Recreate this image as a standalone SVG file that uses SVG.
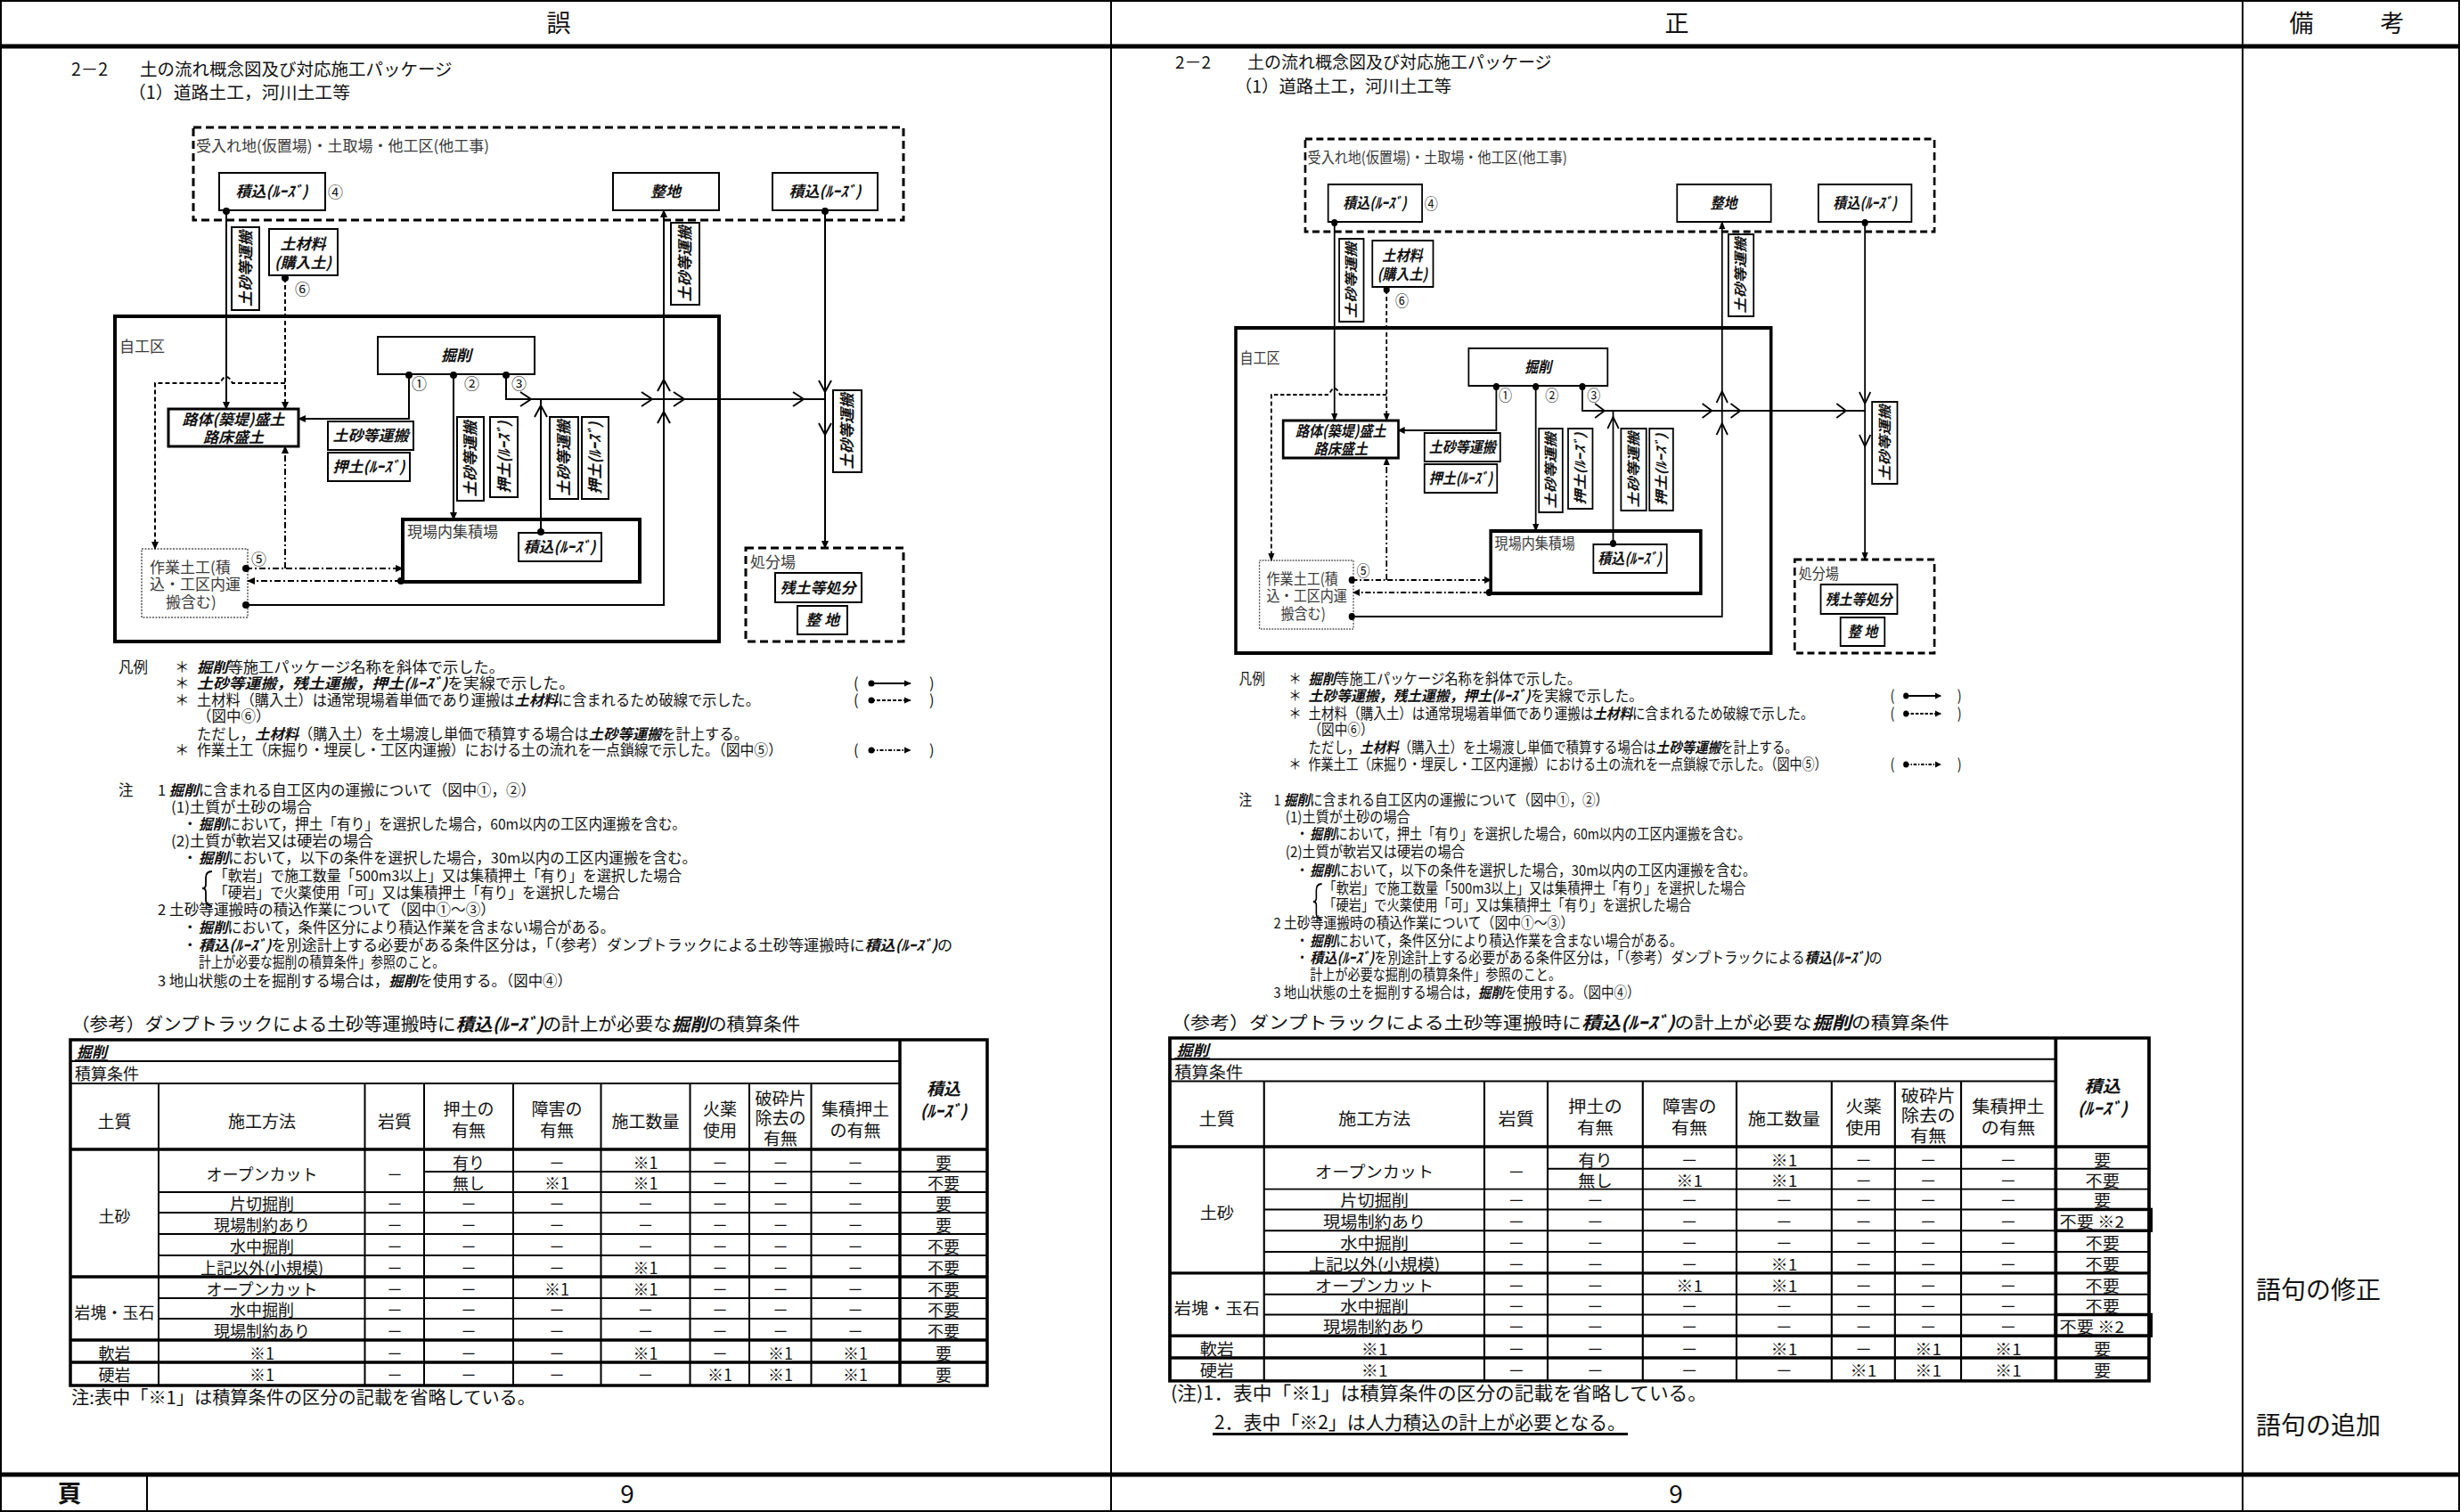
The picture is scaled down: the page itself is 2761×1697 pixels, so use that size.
<svg xmlns="http://www.w3.org/2000/svg" width="2761" height="1697" viewBox="0 0 2761 1697">
<style>
.t{font-family:"Noto Sans CJK JP","Noto Sans",sans-serif;fill:#111}
.d17{font-size:17px}
.s16{font-size:16.5px}
.c18{font-size:18px}
.h19{font-size:19px}
.f20{font-size:20px}
.bi{font-weight:bold;font-style:italic}
.tc{text-anchor:middle}
.ts{text-anchor:start}
.g{fill:#3a3a3a}
.box{fill:#fff;stroke:#000;stroke-width:2}
.dash{fill:none;stroke:#000;stroke-width:3;stroke-dasharray:9 5}
.thick{fill:none;stroke:#000;stroke-width:4}
.ln{fill:none;stroke:#000;stroke-width:2}
.dl{fill:none;stroke:#000;stroke-width:2;stroke-dasharray:5 3}
.dd{fill:none;stroke:#000;stroke-width:2;stroke-dasharray:7 3 2 3}
.dotb{fill:#fff;stroke:#555;stroke-width:1.5;stroke-dasharray:2 1.5}
.tl{fill:none;stroke:#000;stroke-width:2}
.tk{fill:none;stroke:#000;stroke-width:3.5}
</style>
<defs>
<marker id="ah" viewBox="0 0 10 10" refX="9" refY="5" markerWidth="9" markerHeight="9" markerUnits="userSpaceOnUse" orient="auto"><path d="M0,0.5 L10,5 L0,9.5 z" fill="#000"/></marker>
<marker id="ahs" viewBox="0 0 10 10" refX="9" refY="5" markerWidth="8" markerHeight="8" markerUnits="userSpaceOnUse" orient="auto"><path d="M0,0.5 L10,5 L0,9.5 z" fill="#000"/></marker>
</defs>
<rect width="2761" height="1697" fill="#fff"/>

<g id="frame">
<path class="ln" d="M0 1H2761M1 0V1697M2760 0V1697M0 1696H2761M1247 0V1697M2517 0V1697M165 1655V1697"/>
<path d="M0 52H2761M0 1655H2761" stroke="#000" stroke-width="5"/>
<text class="t tc" font-size="27" x="627" y="36">誤</text>
<text class="t tc" font-size="27" x="1882" y="36">正</text>
<text class="t tc" font-size="27" x="2583" y="36">備</text>
<text class="t tc" font-size="27" x="2685" y="36">考</text>
<text class="t tc" font-size="27" font-weight="bold" x="78" y="1686">頁</text>
<text class="t tc" font-size="28" x="704" y="1687">9</text>
<text class="t tc" font-size="28" x="1881" y="1687">9</text>
<text class="t" font-size="28" x="2532" y="1458">語句の修正</text>
<text class="t" font-size="28" x="2532" y="1610">語句の追加</text>
</g>

<g id="titles">
<text class="t" font-size="19.5" x="80" y="85">2－2　<tspan x="157">土の流れ概念図及び対応施工パッケージ</tspan></text>
<text class="t" font-size="19.5" x="144" y="111" textLength="249" lengthAdjust="spacingAndGlyphs">（1）道路土工，河川土工等</text>
<text class="t" font-size="19" x="1319" y="77">2－2　<tspan x="1400">土の流れ概念図及び対応施工パッケージ</tspan></text>
<text class="t" font-size="19" x="1386" y="104" textLength="243" lengthAdjust="spacingAndGlyphs">（1）道路土工，河川土工等</text>
</g>

<!-- ===================== LEFT PANEL (誤) ===================== -->
<g id="L-panel">
<g id="L-node-uke"><rect class="dash" x="217" y="143" width="797" height="104"/><text class="t d17 g" x="220" y="170">受入れ地(仮置場)・土取場・他工区(他工事)</text></g>
<g id="L-node-tsumi4"><rect class="box" x="246" y="194" width="119" height="42"/><text class="t d17 bi tc" x="305" y="221">積込(ﾙｰｽﾞ)</text><text class="t d17" x="368" y="222">④</text></g>
<g id="L-node-seichi"><rect class="box" x="688" y="194" width="119" height="42"/><text class="t d17 bi tc" x="747" y="221">整地</text></g>
<g id="L-node-tsumiR"><rect class="box" x="867" y="194" width="118" height="42"/><text class="t d17 bi tc" x="926" y="221">積込(ﾙｰｽﾞ)</text></g>
<g id="L-node-dozai"><rect class="box" x="302" y="257" width="77" height="52"/><text class="t d17 bi tc" x="340" y="280">土材料</text><text class="t d17 bi tc" x="340" y="301">(購入土)</text><text class="t d17" x="331" y="331">⑥</text></g>
<g id="L-node-jiko"><rect class="thick" x="129" y="355" width="678" height="365"/><text class="t d17 g" x="134" y="395">自工区</text></g>
<g id="L-node-kussaku"><rect class="box" x="424" y="378" width="176" height="42"/><text class="t d17 bi tc" x="512" y="405">掘削</text><text class="t d17" x="462" y="437">①</text><text class="t d17" x="521" y="437">②</text><text class="t d17" x="574" y="437">③</text></g>
<g id="L-node-rotai"><rect class="box" x="189" y="459" width="146" height="42" style="stroke-width:3"/><text class="t d17 bi tc" x="262" y="477">路体(築堤)盛土</text><text class="t d17 bi tc" x="262" y="497">路床盛土</text></g>
<g id="L-node-sagyo"><rect class="dotb" x="159" y="616" width="119" height="77"/><text class="t d17 g" x="168" y="643">作業土工(積</text><text class="t d17 g" x="168" y="662">込・工区内運</text><text class="t d17 g" x="186" y="682">搬含む)</text><text class="t d17" x="282" y="634">⑤</text></g>
<g id="L-node-shuseki"><rect class="thick" x="452" y="583" width="266" height="70"/><text class="t d17 g" x="457" y="603">現場内集積場</text></g>
<g id="L-node-tsumiS"><rect class="box" x="582" y="598" width="93" height="32"/><text class="t d17 bi tc" x="628" y="620">積込(ﾙｰｽﾞ)</text></g>
<g id="L-node-shobun"><rect class="dash" x="837" y="615" width="177" height="105"/><text class="t d17 g" x="842" y="637">処分場</text></g>
<g id="L-node-zando"><rect class="box" x="870" y="643" width="97" height="33"/><text class="t d17 bi tc" x="918" y="666">残土等処分</text></g>
<g id="L-node-seichi2"><rect class="box" x="895" y="680" width="56" height="32"/><text class="t d17 bi tc" x="923" y="702">整 地</text></g>
<g id="L-lbl-1"><rect class="box" x="260" y="255" width="31" height="93"/><text class="t d17 bi tc" transform="translate(275.5 301.5) rotate(-90)" y="6">土砂等運搬</text></g>
<g id="L-lbl-2"><rect class="box" x="753" y="250" width="32" height="92"/><text class="t d17 bi tc" transform="translate(769 296) rotate(-90)" y="6">土砂等運搬</text></g>
<g id="L-lbl-3"><rect class="box" x="935" y="438" width="32" height="92"/><text class="t d17 bi tc" transform="translate(951 484) rotate(-90)" y="6">土砂等運搬</text></g>
<g id="L-lbl-4"><rect class="box" x="513" y="468" width="30" height="94"/><text class="t d17 bi tc" transform="translate(528 515) rotate(-90)" y="6">土砂等運搬</text></g>
<g id="L-lbl-5"><rect class="box" x="550" y="468" width="31" height="90"/><text class="t d17 bi tc" transform="translate(565.5 513) rotate(-90)" y="6">押土(ﾙｰｽﾞ)</text></g>
<g id="L-lbl-6"><rect class="box" x="617" y="468" width="32" height="92"/><text class="t d17 bi tc" transform="translate(633 514) rotate(-90)" y="6">土砂等運搬</text></g>
<g id="L-lbl-7"><rect class="box" x="653" y="468" width="30" height="92"/><text class="t d17 bi tc" transform="translate(668 514) rotate(-90)" y="6">押土(ﾙｰｽﾞ)</text></g>
<g id="L-lbl-8"><rect class="box" x="368" y="473" width="96" height="32"/><text class="t d17 bi tc" x="416" y="495">土砂等運搬</text></g>
<g id="L-lbl-9"><rect class="box" x="368" y="508" width="92" height="32"/><text class="t d17 bi tc" x="414" y="530">押土(ﾙｰｽﾞ)</text></g>
<g id="L-connectors">
<path class="ln" d="M254 237V459" marker-end="url(#ah)"/>
<path class="ln" d="M459 421V470H335" marker-end="url(#ah)"/>
<path class="ln" d="M509 421V583" marker-end="url(#ah)"/>
<path class="ln" d="M568 421V448H926"/>
<path class="ln" d="M607 597V448"/>
<path class="ln" d="M276 679H745V236" marker-end="url(#ah)"/>
<path class="ln" d="M926 237V615" marker-end="url(#ah)"/>
<path class="dl" d="M320 312V459" marker-end="url(#ah)"/>
<path class="dl" d="M320 430H261Q254 416 247 430H174V616" marker-end="url(#ah)"/>
<path class="dd" d="M276 638H452" marker-end="url(#ah)"/>
<path class="dd" d="M320 638V501" marker-end="url(#ah)"/>
<path class="dd" d="M450 652H278" marker-end="url(#ah)"/>
<path class="ln" d="M584 440L596 448L584 456M720 440L732 448L720 456M756 440L768 448L756 456M890 440L902 448L890 456M738 439L745 426L752 439M738 475L745 462L752 475M600 468L607 455L614 468M919 427L926 440L933 427M919 475L926 488L933 475"/>
<g fill="#000"><circle cx="254" cy="237" r="4"/><circle cx="320" cy="312" r="4"/><circle cx="459" cy="421" r="4"/><circle cx="509" cy="421" r="4"/><circle cx="568" cy="421" r="4"/><circle cx="607" cy="597" r="4"/><circle cx="276" cy="638" r="4"/><circle cx="276" cy="679" r="4"/><circle cx="450" cy="652" r="4"/><circle cx="926" cy="237" r="4"/></g>
</g>
<g id="L-legend" class="t s16">
<text x="133" y="755">凡例</text>
<text x="196" y="755">＊</text><text x="221" y="755" textLength="345" lengthAdjust="spacingAndGlyphs"><tspan class="bi">掘削</tspan>等施工パッケージ名称を斜体で示した。</text>
<text x="196" y="773">＊</text><text x="221" y="773" textLength="424" lengthAdjust="spacingAndGlyphs"><tspan class="bi">土砂等運搬，残土運搬，押土(ﾙｰｽﾞ)</tspan>を実線で示した。</text>
<text x="196" y="792">＊</text><text x="221" y="792" textLength="632" lengthAdjust="spacingAndGlyphs">土材料（購入土）は通常現場着単価であり運搬は<tspan class="bi">土材料</tspan>に含まれるため破線で示した。</text>
<text x="221" y="810">（図中⑥）</text>
<text x="221" y="830" textLength="619" lengthAdjust="spacingAndGlyphs">ただし，<tspan class="bi">土材料</tspan>（購入土）を土場渡し単価で積算する場合は<tspan class="bi">土砂等運搬</tspan>を計上する。</text>
<text x="196" y="848">＊</text><text x="221" y="848" textLength="657" lengthAdjust="spacingAndGlyphs">作業土工（床掘り・埋戻し・工区内運搬）における土の流れを一点鎖線で示した。（図中⑤）</text>
<text x="958" y="773">(</text><text x="1043" y="773">)</text>
<text x="958" y="792">(</text><text x="1043" y="792">)</text>
<text x="958" y="848">(</text><text x="1043" y="848">)</text>
<circle cx="978" cy="767" r="3.5" fill="#000"/><path class="ln" d="M978 767H1022" marker-end="url(#ahs)"/>
<circle cx="978" cy="786" r="3.5" fill="#000"/><path class="ln" d="M978 786H1022" style="stroke-dasharray:4 2" marker-end="url(#ahs)"/>
<circle cx="978" cy="842" r="3.5" fill="#000"/><path class="ln" d="M978 842H1022" style="stroke-dasharray:4 2 1.5 2" marker-end="url(#ahs)"/>
</g>
<g id="L-notes" class="t s16">
<text x="133" y="893">注</text>
<text x="177" y="893" textLength="424" lengthAdjust="spacingAndGlyphs">1 <tspan class="bi">掘削</tspan>に含まれる自工区内の運搬について（図中①，②）</text>
<text x="192" y="912" textLength="158" lengthAdjust="spacingAndGlyphs">(1)土質が土砂の場合</text>
<text x="205" y="931">・</text><text x="223" y="931" textLength="547" lengthAdjust="spacingAndGlyphs"><tspan class="bi">掘削</tspan>において，押土「有り」を選択した場合，60m以内の工区内運搬を含む。</text>
<text x="192" y="950" textLength="227" lengthAdjust="spacingAndGlyphs">(2)土質が軟岩又は硬岩の場合</text>
<text x="205" y="969">・</text><text x="223" y="969" textLength="559" lengthAdjust="spacingAndGlyphs"><tspan class="bi">掘削</tspan>において，以下の条件を選択した場合，30m以内の工区内運搬を含む。</text>
<path d="M238 978Q231 978 231 985V993Q231 997 227 997Q231 997 231 1001V1010Q231 1017 238 1017" fill="none" stroke="#000" stroke-width="1.8"/>
<text x="240" y="989" textLength="525" lengthAdjust="spacingAndGlyphs">「軟岩」で施工数量「500m3以上」又は集積押土「有り」を選択した場合</text>
<text x="240" y="1008" textLength="456" lengthAdjust="spacingAndGlyphs">「硬岩」で火薬使用「可」又は集積押土「有り」を選択した場合</text>
<text x="177" y="1027" textLength="379" lengthAdjust="spacingAndGlyphs">2 土砂等運搬時の積込作業について（図中①～③）</text>
<text x="205" y="1047">・</text><text x="223" y="1047" textLength="467" lengthAdjust="spacingAndGlyphs"><tspan class="bi">掘削</tspan>において，条件区分により積込作業を含まない場合がある。</text>
<text x="205" y="1067">・</text><text x="223" y="1067" textLength="846" lengthAdjust="spacingAndGlyphs"><tspan class="bi">積込(ﾙｰｽﾞ)</tspan>を別途計上する必要がある条件区分は，「（参考）ダンプトラックによる土砂等運搬時に<tspan class="bi">積込(ﾙｰｽﾞ)</tspan>の</text>
<text x="223" y="1086" textLength="276" lengthAdjust="spacingAndGlyphs">計上が必要な掘削の積算条件」参照のこと。</text>
<text x="177" y="1107" textLength="465" lengthAdjust="spacingAndGlyphs">3 地山状態の土を掘削する場合は，<tspan class="bi">掘削</tspan>を使用する。（図中④）</text>
</g>
<g id="L-table">
<text class="t f20" x="80" y="1157" textLength="818" lengthAdjust="spacingAndGlyphs">（参考）ダンプトラックによる土砂等運搬時に<tspan class="bi">積込(ﾙｰｽﾞ)</tspan>の計上が必要な<tspan class="bi">掘削</tspan>の積算条件</text>
<rect class="tk" x="79" y="1167" width="1029" height="388"/>
<path class="tl" d="M79 1191H1010M79 1216H1010M178 1216V1555M409.5 1216V1555M476 1216V1555M576 1216V1555M674.5 1216V1555M774.5 1216V1555M841 1216V1555M910.5 1216V1555M476 1315H1108M178 1338H1108M178 1361H1108M178 1385H1108M178 1409H1108M178 1457H1108M178 1480H1108"/>
<path class="tk" d="M1010 1167V1555M79 1290H1108M79 1433H1108M79 1504H1108M79 1529H1108"/>
<text class="t bi" font-size="17" x="86" y="1187">掘削</text><path d="M84 1190H121" stroke="#000" stroke-width="1.5"/>
<text class="t c18" x="84" y="1212">積算条件</text>
<g class="t h19 tc">
<text x="128.5" y="1266">土質</text><text x="294" y="1266">施工方法</text><text x="443" y="1266">岩質</text>
<text x="526" y="1252">押土の</text><text x="526" y="1276">有無</text>
<text x="625" y="1252">障害の</text><text x="625" y="1276">有無</text>
<text x="724.5" y="1266">施工数量</text>
<text x="808" y="1252">火薬</text><text x="808" y="1276">使用</text>
<text x="876" y="1240">破砕片</text><text x="876" y="1262">除去の</text><text x="876" y="1285">有無</text>
<text x="960" y="1252">集積押土</text><text x="960" y="1276">の有無</text>
<text class="bi" x="1059" y="1229">積込</text><text class="bi" x="1059" y="1254">(ﾙｰｽﾞ)</text>
</g>
<g class="t c18 tc">
<text x="128.5" y="1372">土砂</text><text x="128.5" y="1480">岩塊・玉石</text><text x="128.5" y="1526">軟岩</text><text x="128.5" y="1550">硬岩</text>
<text x="294" y="1325">オープンカット</text><text x="443" y="1325">－</text>
<text x="526" y="1312">有り</text><text x="625" y="1312">－</text><text x="724.5" y="1312">※1</text><text x="808" y="1312">－</text><text x="876" y="1312">－</text><text x="960" y="1312">－</text><text x="1059" y="1312">要</text>
<text x="526" y="1335">無し</text><text x="625" y="1335">※1</text><text x="724.5" y="1335">※1</text><text x="808" y="1335">－</text><text x="876" y="1335">－</text><text x="960" y="1335">－</text><text x="1059" y="1335">不要</text>
<text x="294" y="1358">片切掘削</text><text x="443" y="1358">－</text><text x="526" y="1358">－</text><text x="625" y="1358">－</text><text x="724.5" y="1358">－</text><text x="808" y="1358">－</text><text x="876" y="1358">－</text><text x="960" y="1358">－</text><text x="1059" y="1358">要</text>
<text x="294" y="1382">現場制約あり</text><text x="443" y="1382">－</text><text x="526" y="1382">－</text><text x="625" y="1382">－</text><text x="724.5" y="1382">－</text><text x="808" y="1382">－</text><text x="876" y="1382">－</text><text x="960" y="1382">－</text><text x="1059" y="1382">要</text>
<text x="294" y="1406">水中掘削</text><text x="443" y="1406">－</text><text x="526" y="1406">－</text><text x="625" y="1406">－</text><text x="724.5" y="1406">－</text><text x="808" y="1406">－</text><text x="876" y="1406">－</text><text x="960" y="1406">－</text><text x="1059" y="1406">不要</text>
<text x="294" y="1430">上記以外(小規模)</text><text x="443" y="1430">－</text><text x="526" y="1430">－</text><text x="625" y="1430">－</text><text x="724.5" y="1430">※1</text><text x="808" y="1430">－</text><text x="876" y="1430">－</text><text x="960" y="1430">－</text><text x="1059" y="1430">不要</text>
<text x="294" y="1454">オープンカット</text><text x="443" y="1454">－</text><text x="526" y="1454">－</text><text x="625" y="1454">※1</text><text x="724.5" y="1454">※1</text><text x="808" y="1454">－</text><text x="876" y="1454">－</text><text x="960" y="1454">－</text><text x="1059" y="1454">不要</text>
<text x="294" y="1477">水中掘削</text><text x="443" y="1477">－</text><text x="526" y="1477">－</text><text x="625" y="1477">－</text><text x="724.5" y="1477">－</text><text x="808" y="1477">－</text><text x="876" y="1477">－</text><text x="960" y="1477">－</text><text x="1059" y="1477">不要</text>
<text x="294" y="1501">現場制約あり</text><text x="443" y="1501">－</text><text x="526" y="1501">－</text><text x="625" y="1501">－</text><text x="724.5" y="1501">－</text><text x="808" y="1501">－</text><text x="876" y="1501">－</text><text x="960" y="1501">－</text><text x="1059" y="1501">不要</text>
<text x="294" y="1526">※1</text><text x="443" y="1526">－</text><text x="526" y="1526">－</text><text x="625" y="1526">－</text><text x="724.5" y="1526">※1</text><text x="808" y="1526">－</text><text x="876" y="1526">※1</text><text x="960" y="1526">※1</text><text x="1059" y="1526">要</text>
<text x="294" y="1550">※1</text><text x="443" y="1550">－</text><text x="526" y="1550">－</text><text x="625" y="1550">－</text><text x="724.5" y="1550">－</text><text x="808" y="1550">※1</text><text x="876" y="1550">※1</text><text x="960" y="1550">※1</text><text x="1059" y="1550">要</text>
</g>
<text class="t f20" x="80" y="1576" textLength="521" lengthAdjust="spacingAndGlyphs">注:表中「※1」は積算条件の区分の記載を省略している。</text>
</g>
</g>

<!-- ===================== RIGHT PANEL (正) ===================== -->
<g id="R-panel" transform="translate(1387 13) scale(0.886 1) translate(-129 0)">
<g id="R-node-uke"><rect class="dash" x="217" y="143" width="797" height="104"/><text class="t d17 g" x="220" y="170">受入れ地(仮置場)・土取場・他工区(他工事)</text></g>
<g id="R-node-tsumi4"><rect class="box" x="246" y="194" width="119" height="42"/><text class="t d17 bi tc" x="305" y="221">積込(ﾙｰｽﾞ)</text><text class="t d17" x="368" y="222">④</text></g>
<g id="R-node-seichi"><rect class="box" x="688" y="194" width="119" height="42"/><text class="t d17 bi tc" x="747" y="221">整地</text></g>
<g id="R-node-tsumiR"><rect class="box" x="867" y="194" width="118" height="42"/><text class="t d17 bi tc" x="926" y="221">積込(ﾙｰｽﾞ)</text></g>
<g id="R-node-dozai"><rect class="box" x="302" y="257" width="77" height="52"/><text class="t d17 bi tc" x="340" y="280">土材料</text><text class="t d17 bi tc" x="340" y="301">(購入土)</text><text class="t d17" x="331" y="331">⑥</text></g>
<g id="R-node-jiko"><rect class="thick" x="129" y="355" width="678" height="365"/><text class="t d17 g" x="134" y="395">自工区</text></g>
<g id="R-node-kussaku"><rect class="box" x="424" y="378" width="176" height="42"/><text class="t d17 bi tc" x="512" y="405">掘削</text><text class="t d17" x="462" y="437">①</text><text class="t d17" x="521" y="437">②</text><text class="t d17" x="574" y="437">③</text></g>
<g id="R-node-rotai"><rect class="box" x="189" y="459" width="146" height="42" style="stroke-width:3"/><text class="t d17 bi tc" x="262" y="477">路体(築堤)盛土</text><text class="t d17 bi tc" x="262" y="497">路床盛土</text></g>
<g id="R-node-sagyo"><rect class="dotb" x="159" y="616" width="119" height="77"/><text class="t d17 g" x="168" y="643">作業土工(積</text><text class="t d17 g" x="168" y="662">込・工区内運</text><text class="t d17 g" x="186" y="682">搬含む)</text><text class="t d17" x="282" y="634">⑤</text></g>
<g id="R-node-shuseki"><rect class="thick" x="452" y="583" width="266" height="70"/><text class="t d17 g" x="457" y="603">現場内集積場</text></g>
<g id="R-node-tsumiS"><rect class="box" x="582" y="598" width="93" height="32"/><text class="t d17 bi tc" x="628" y="620">積込(ﾙｰｽﾞ)</text></g>
<g id="R-node-shobun"><rect class="dash" x="837" y="615" width="177" height="105"/><text class="t d17 g" x="842" y="637">処分場</text></g>
<g id="R-node-zando"><rect class="box" x="870" y="643" width="97" height="33"/><text class="t d17 bi tc" x="918" y="666">残土等処分</text></g>
<g id="R-node-seichi2"><rect class="box" x="895" y="680" width="56" height="32"/><text class="t d17 bi tc" x="923" y="702">整 地</text></g>
<g id="R-lbl-1"><rect class="box" x="260" y="255" width="31" height="93"/><text class="t d17 bi tc" transform="translate(275.5 301.5) rotate(-90)" y="6">土砂等運搬</text></g>
<g id="R-lbl-2"><rect class="box" x="753" y="250" width="32" height="92"/><text class="t d17 bi tc" transform="translate(769 296) rotate(-90)" y="6">土砂等運搬</text></g>
<g id="R-lbl-3"><rect class="box" x="935" y="438" width="32" height="92"/><text class="t d17 bi tc" transform="translate(951 484) rotate(-90)" y="6">土砂等運搬</text></g>
<g id="R-lbl-4"><rect class="box" x="513" y="468" width="30" height="94"/><text class="t d17 bi tc" transform="translate(528 515) rotate(-90)" y="6">土砂等運搬</text></g>
<g id="R-lbl-5"><rect class="box" x="550" y="468" width="31" height="90"/><text class="t d17 bi tc" transform="translate(565.5 513) rotate(-90)" y="6">押土(ﾙｰｽﾞ)</text></g>
<g id="R-lbl-6"><rect class="box" x="617" y="468" width="32" height="92"/><text class="t d17 bi tc" transform="translate(633 514) rotate(-90)" y="6">土砂等運搬</text></g>
<g id="R-lbl-7"><rect class="box" x="653" y="468" width="30" height="92"/><text class="t d17 bi tc" transform="translate(668 514) rotate(-90)" y="6">押土(ﾙｰｽﾞ)</text></g>
<g id="R-lbl-8"><rect class="box" x="368" y="473" width="96" height="32"/><text class="t d17 bi tc" x="416" y="495">土砂等運搬</text></g>
<g id="R-lbl-9"><rect class="box" x="368" y="508" width="92" height="32"/><text class="t d17 bi tc" x="414" y="530">押土(ﾙｰｽﾞ)</text></g>
<g id="R-connectors">
<path class="ln" d="M254 237V459" marker-end="url(#ah)"/>
<path class="ln" d="M459 421V470H335" marker-end="url(#ah)"/>
<path class="ln" d="M509 421V583" marker-end="url(#ah)"/>
<path class="ln" d="M568 421V448H926"/>
<path class="ln" d="M607 597V448"/>
<path class="ln" d="M276 679H745V236" marker-end="url(#ah)"/>
<path class="ln" d="M926 237V615" marker-end="url(#ah)"/>
<path class="dl" d="M320 312V459" marker-end="url(#ah)"/>
<path class="dl" d="M320 430H261Q254 416 247 430H174V616" marker-end="url(#ah)"/>
<path class="dd" d="M276 638H452" marker-end="url(#ah)"/>
<path class="dd" d="M320 638V501" marker-end="url(#ah)"/>
<path class="dd" d="M450 652H278" marker-end="url(#ah)"/>
<path class="ln" d="M584 440L596 448L584 456M720 440L732 448L720 456M756 440L768 448L756 456M890 440L902 448L890 456M738 439L745 426L752 439M738 475L745 462L752 475M600 468L607 455L614 468M919 427L926 440L933 427M919 475L926 488L933 475"/>
<g fill="#000"><circle cx="254" cy="237" r="4"/><circle cx="320" cy="312" r="4"/><circle cx="459" cy="421" r="4"/><circle cx="509" cy="421" r="4"/><circle cx="568" cy="421" r="4"/><circle cx="607" cy="597" r="4"/><circle cx="276" cy="638" r="4"/><circle cx="276" cy="679" r="4"/><circle cx="450" cy="652" r="4"/><circle cx="926" cy="237" r="4"/></g>
</g>
<g id="R-legend" class="t s16">
<text x="133" y="755">凡例</text>
<text x="196" y="755">＊</text><text x="221" y="755" textLength="345" lengthAdjust="spacingAndGlyphs"><tspan class="bi">掘削</tspan>等施工パッケージ名称を斜体で示した。</text>
<text x="196" y="774">＊</text><text x="221" y="774" textLength="424" lengthAdjust="spacingAndGlyphs"><tspan class="bi">土砂等運搬，残土運搬，押土(ﾙｰｽﾞ)</tspan>を実線で示した。</text>
<text x="196" y="794">＊</text><text x="221" y="794" textLength="640" lengthAdjust="spacingAndGlyphs">土材料（購入土）は通常現場着単価であり運搬は<tspan class="bi">土材料</tspan>に含まれるため破線で示した。</text>
<text x="221" y="812">（図中⑥）</text>
<text x="221" y="832" textLength="620" lengthAdjust="spacingAndGlyphs">ただし，<tspan class="bi">土材料</tspan>（購入土）を土場渡し単価で積算する場合は<tspan class="bi">土砂等運搬</tspan>を計上する。</text>
<text x="196" y="851">＊</text><text x="221" y="851" textLength="657" lengthAdjust="spacingAndGlyphs">作業土工（床掘り・埋戻し・工区内運搬）における土の流れを一点鎖線で示した。（図中⑤）</text>
<text x="958" y="774">(</text><text x="1043" y="774">)</text>
<text x="958" y="794">(</text><text x="1043" y="794">)</text>
<text x="958" y="851">(</text><text x="1043" y="851">)</text>
<circle cx="978" cy="768" r="3.5" fill="#000"/><path class="ln" d="M978 768H1022" marker-end="url(#ahs)"/>
<circle cx="978" cy="788" r="3.5" fill="#000"/><path class="ln" d="M978 788H1022" style="stroke-dasharray:4 2" marker-end="url(#ahs)"/>
<circle cx="978" cy="845" r="3.5" fill="#000"/><path class="ln" d="M978 845H1022" style="stroke-dasharray:4 2 1.5 2" marker-end="url(#ahs)"/>
</g>
<g id="R-notes" class="t s16">
<text x="133" y="891">注</text>
<text x="177" y="891" textLength="424" lengthAdjust="spacingAndGlyphs">1 <tspan class="bi">掘削</tspan>に含まれる自工区内の運搬について（図中①，②）</text>
<text x="192" y="910" textLength="158" lengthAdjust="spacingAndGlyphs">(1)土質が土砂の場合</text>
<text x="205" y="929">・</text><text x="223" y="929" textLength="558" lengthAdjust="spacingAndGlyphs"><tspan class="bi">掘削</tspan>において，押土「有り」を選択した場合，60m以内の工区内運搬を含む。</text>
<text x="192" y="949" textLength="227" lengthAdjust="spacingAndGlyphs">(2)土質が軟岩又は硬岩の場合</text>
<text x="205" y="970">・</text><text x="223" y="970" textLength="565" lengthAdjust="spacingAndGlyphs"><tspan class="bi">掘削</tspan>において，以下の条件を選択した場合，30m以内の工区内運搬を含む。</text>
<path d="M238 979Q231 979 231 986V995Q231 999 227 999Q231 999 231 1003V1012Q231 1019 238 1019" fill="none" stroke="#000" stroke-width="1.8"/>
<text x="240" y="990" textLength="535" lengthAdjust="spacingAndGlyphs">「軟岩」で施工数量「500m3以上」又は集積押土「有り」を選択した場合</text>
<text x="240" y="1009" textLength="466" lengthAdjust="spacingAndGlyphs">「硬岩」で火薬使用「可」又は集積押土「有り」を選択した場合</text>
<text x="177" y="1029" textLength="380" lengthAdjust="spacingAndGlyphs">2 土砂等運搬時の積込作業について（図中①～③）</text>
<text x="205" y="1049">・</text><text x="223" y="1049" textLength="472" lengthAdjust="spacingAndGlyphs"><tspan class="bi">掘削</tspan>において，条件区分により積込作業を含まない場合がある。</text>
<text x="205" y="1068">・</text><text x="223" y="1068" textLength="725" lengthAdjust="spacingAndGlyphs"><tspan class="bi">積込(ﾙｰｽﾞ)</tspan>を別途計上する必要がある条件区分は，「（参考）ダンプトラックによる<tspan class="bi">積込(ﾙｰｽﾞ)</tspan>の</text>
<text x="223" y="1087" textLength="318" lengthAdjust="spacingAndGlyphs">計上が必要な掘削の積算条件」参照のこと。</text>
<text x="177" y="1107" textLength="464" lengthAdjust="spacingAndGlyphs">3 地山状態の土を掘削する場合は，<tspan class="bi">掘削</tspan>を使用する。（図中④）</text>
</g>
</g>

<g id="R-table" transform="translate(1313 1165) scale(1.068 0.992) translate(-79 -1167)">
<text class="t f20" x="80" y="1157" textLength="818" lengthAdjust="spacingAndGlyphs">（参考）ダンプトラックによる土砂等運搬時に<tspan class="bi">積込(ﾙｰｽﾞ)</tspan>の計上が必要な<tspan class="bi">掘削</tspan>の積算条件</text>
<rect class="tk" x="79" y="1167" width="1029" height="388"/>
<path class="tl" d="M79 1191H1010M79 1216H1010M178 1216V1555M409.5 1216V1555M476 1216V1555M576 1216V1555M674.5 1216V1555M774.5 1216V1555M841 1216V1555M910.5 1216V1555M476 1315H1108M178 1338H1108M178 1361H1108M178 1385H1108M178 1409H1108M178 1457H1108M178 1480H1108"/>
<path class="tk" d="M1010 1167V1555M79 1290H1108M79 1433H1108M79 1504H1108M79 1529H1108"/>
<rect class="tk" x="1010" y="1361" width="100" height="24"/>
<rect class="tk" x="1010" y="1480" width="100" height="24"/>
<text class="t bi" font-size="17" x="86" y="1187">掘削</text><path d="M84 1190H121" stroke="#000" stroke-width="1.5"/>
<text class="t c18" x="84" y="1212">積算条件</text>
<g class="t h19 tc">
<text x="128.5" y="1266">土質</text><text x="294" y="1266">施工方法</text><text x="443" y="1266">岩質</text>
<text x="526" y="1252">押土の</text><text x="526" y="1276">有無</text>
<text x="625" y="1252">障害の</text><text x="625" y="1276">有無</text>
<text x="724.5" y="1266">施工数量</text>
<text x="808" y="1252">火薬</text><text x="808" y="1276">使用</text>
<text x="876" y="1240">破砕片</text><text x="876" y="1262">除去の</text><text x="876" y="1285">有無</text>
<text x="960" y="1252">集積押土</text><text x="960" y="1276">の有無</text>
<text class="bi" x="1059" y="1229">積込</text><text class="bi" x="1059" y="1254">(ﾙｰｽﾞ)</text>
</g>
<g class="t c18 tc">
<text x="128.5" y="1372">土砂</text><text x="128.5" y="1480">岩塊・玉石</text><text x="128.5" y="1526">軟岩</text><text x="128.5" y="1550">硬岩</text>
<text x="294" y="1325">オープンカット</text><text x="443" y="1325">－</text>
<text x="526" y="1312">有り</text><text x="625" y="1312">－</text><text x="724.5" y="1312">※1</text><text x="808" y="1312">－</text><text x="876" y="1312">－</text><text x="960" y="1312">－</text><text x="1059" y="1312">要</text>
<text x="526" y="1335">無し</text><text x="625" y="1335">※1</text><text x="724.5" y="1335">※1</text><text x="808" y="1335">－</text><text x="876" y="1335">－</text><text x="960" y="1335">－</text><text x="1059" y="1335">不要</text>
<text x="294" y="1358">片切掘削</text><text x="443" y="1358">－</text><text x="526" y="1358">－</text><text x="625" y="1358">－</text><text x="724.5" y="1358">－</text><text x="808" y="1358">－</text><text x="876" y="1358">－</text><text x="960" y="1358">－</text><text x="1059" y="1358">要</text>
<text x="294" y="1382">現場制約あり</text><text x="443" y="1382">－</text><text x="526" y="1382">－</text><text x="625" y="1382">－</text><text x="724.5" y="1382">－</text><text x="808" y="1382">－</text><text x="876" y="1382">－</text><text x="960" y="1382">－</text><text class="ts" x="1014" y="1382">不要 ※2</text>
<text x="294" y="1406">水中掘削</text><text x="443" y="1406">－</text><text x="526" y="1406">－</text><text x="625" y="1406">－</text><text x="724.5" y="1406">－</text><text x="808" y="1406">－</text><text x="876" y="1406">－</text><text x="960" y="1406">－</text><text x="1059" y="1406">不要</text>
<text x="294" y="1430">上記以外(小規模)</text><text x="443" y="1430">－</text><text x="526" y="1430">－</text><text x="625" y="1430">－</text><text x="724.5" y="1430">※1</text><text x="808" y="1430">－</text><text x="876" y="1430">－</text><text x="960" y="1430">－</text><text x="1059" y="1430">不要</text>
<text x="294" y="1454">オープンカット</text><text x="443" y="1454">－</text><text x="526" y="1454">－</text><text x="625" y="1454">※1</text><text x="724.5" y="1454">※1</text><text x="808" y="1454">－</text><text x="876" y="1454">－</text><text x="960" y="1454">－</text><text x="1059" y="1454">不要</text>
<text x="294" y="1477">水中掘削</text><text x="443" y="1477">－</text><text x="526" y="1477">－</text><text x="625" y="1477">－</text><text x="724.5" y="1477">－</text><text x="808" y="1477">－</text><text x="876" y="1477">－</text><text x="960" y="1477">－</text><text x="1059" y="1477">不要</text>
<text x="294" y="1501">現場制約あり</text><text x="443" y="1501">－</text><text x="526" y="1501">－</text><text x="625" y="1501">－</text><text x="724.5" y="1501">－</text><text x="808" y="1501">－</text><text x="876" y="1501">－</text><text x="960" y="1501">－</text><text class="ts" x="1014" y="1501">不要 ※2</text>
<text x="294" y="1526">※1</text><text x="443" y="1526">－</text><text x="526" y="1526">－</text><text x="625" y="1526">－</text><text x="724.5" y="1526">※1</text><text x="808" y="1526">－</text><text x="876" y="1526">※1</text><text x="960" y="1526">※1</text><text x="1059" y="1526">要</text>
<text x="294" y="1550">※1</text><text x="443" y="1550">－</text><text x="526" y="1550">－</text><text x="625" y="1550">－</text><text x="724.5" y="1550">－</text><text x="808" y="1550">※1</text><text x="876" y="1550">※1</text><text x="960" y="1550">※1</text><text x="1059" y="1550">要</text>
</g>
</g>
<g id="R-tablenotes">
<text class="t" font-size="21" x="1314" y="1571" textLength="602" lengthAdjust="spacingAndGlyphs">(注)1．表中「※1」は積算条件の区分の記載を省略している。</text>
<text class="t" font-size="21" x="1363" y="1604" textLength="462" lengthAdjust="spacingAndGlyphs">2．表中「※2」は人力積込の計上が必要となる。</text>
<rect x="1361" y="1608" width="466" height="3" fill="#000"/>
</g>
</svg>
